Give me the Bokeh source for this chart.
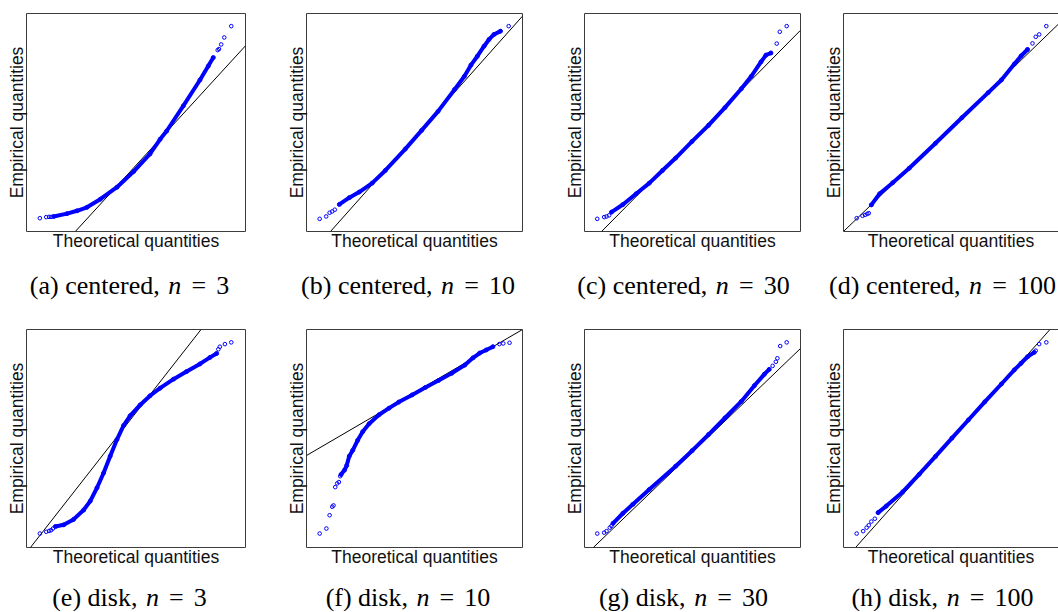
from bokeh.plotting import figure
from bokeh.layouts import row, column
from bokeh.models import Range1d, FixedTicker, LinearAxis
from bokeh.core.properties import value
from bokeh.embed import file_html
from bokeh.resources import INLINE

# ---------------- data: (theoretical, empirical), % of each panel's frame
letters = ["a", "b", "c", "d", "e", "f", "g", "h"]
kinds = ["centered"] * 4 + ["disk"] * 4
n_values = ["3", "10", "30", "100", "3", "10", "30", "100"]

a_band_x = [12.4, 18.5, 23.1, 27.6, 33.7, 41.3, 48.9, 56.4, 61.0, 64.0, 71.6, 79.2, 83.0, 85.3]
a_band_y = [6.9, 8.2, 9.5, 11.1, 14.8, 20.3, 27.5, 35.6, 42.3, 46.1, 57.6, 69.5, 75.9, 79.8]
a_tail_x = [6.1, 9.0, 10.3, 11.2, 87.3, 87.9, 88.9, 90.3, 93.5]
a_tail_y = [6.1, 6.6, 6.7, 6.7, 83.2, 83.7, 85.8, 89.0, 94.2]
a_ref_x, a_ref_y = [22.3, 100.0], [0.0, 85.2]

b_band_x = [15.2, 19.8, 24.4, 30.4, 36.5, 45.7, 53.3, 60.9, 68.5, 73.1, 76.1, 79.1, 82.2, 84.5, 86.8, 89.8]
b_band_y = [12.4, 15.5, 18.1, 22.2, 28.0, 37.8, 46.4, 55.1, 65.1, 71.2, 76.3, 80.4, 85.0, 88.1, 90.4, 91.9]
b_tail_x = [6.1, 9.1, 10.7, 11.9, 13.1, 93.6]
b_tail_y = [5.8, 6.9, 8.6, 9.2, 10.0, 94.2]
b_ref_x, b_ref_y = [11.1, 100.0], [0.0, 98.8]

c_band_x = [12.5, 17.8, 23.9, 30.0, 36.1, 42.2, 49.8, 57.4, 65.0, 72.6, 77.2, 81.7, 84.0, 86.3]
c_band_y = [8.9, 12.4, 17.3, 22.2, 28.0, 33.7, 41.3, 48.7, 56.8, 65.5, 71.2, 77.8, 80.9, 81.9]
c_tail_x = [5.9, 9.1, 10.2, 11.4, 89.0, 90.4, 93.6]
c_tail_y = [5.8, 6.6, 6.9, 7.4, 86.2, 91.6, 94.2]
c_ref_x, c_ref_y = [7.9, 100.0], [0.0, 92.3]

d_band_x = [12.9, 16.7, 22.8, 30.4, 42.6, 54.8, 67.0, 73.1, 79.1, 82.2, 85.2]
d_band_y = [12.2, 17.3, 22.4, 29.0, 40.5, 52.2, 63.7, 69.5, 76.8, 80.5, 83.5]
d_tail_x = [6.1, 8.8, 10.0, 11.0, 11.7, 87.5, 89.0, 90.6, 93.9]
d_tail_y = [6.1, 7.2, 7.6, 8.1, 8.4, 86.3, 89.3, 90.4, 94.2]
d_ref_x, d_ref_y = [0.0, 100.0], [0.0, 95.6]

e_band_x = [13.2, 17.0, 21.5, 26.1, 29.1, 32.2, 35.2, 38.2, 41.3, 44.3, 47.3, 51.9, 56.4, 61.0,
            67.1, 73.1, 79.2, 83.8, 86.8]
e_band_y = [9.6, 10.4, 12.9, 17.2, 21.3, 27.4, 34.2, 41.9, 49.5, 55.9, 60.4, 65.4, 69.6, 73.1,
            77.2, 80.7, 84.2, 87.2, 89.0]
e_tail_x = [6.1, 9.0, 10.3, 11.2, 12.1, 87.6, 88.3, 90.6, 93.5]
e_tail_y = [6.4, 7.2, 7.6, 7.9, 8.7, 90.9, 92.1, 93.3, 94.1]
e_ref_x, e_ref_y = [1.8, 79.7], [0.0, 100.0]

f_band_x = [16.0, 17.6, 18.6, 19.8, 21.4, 23.7, 26.0, 29.0, 33.6, 38.2, 42.7, 48.9, 55.0, 61.1,
            67.2, 73.3, 77.1, 80.2, 83.2, 86.3]
f_band_y = [33.5, 35.5, 37.6, 41.9, 44.6, 49.2, 53.1, 56.8, 60.9, 63.9, 66.7, 70.0, 73.4, 76.6,
            79.9, 83.7, 87.0, 89.2, 90.6, 92.1]
f_tail_x = [6.1, 9.2, 10.7, 11.9, 12.5, 13.3, 14.2, 15.0, 15.6, 89.3, 91.1, 94.0]
f_tail_y = [6.4, 8.7, 14.8, 18.7, 19.3, 27.7, 29.4, 30.0, 32.7, 93.3, 93.6, 93.9]
f_ref_x, f_ref_y = [0.0, 100.0], [42.2, 100.0]

g_band_x = [13.2, 17.8, 22.4, 30.0, 42.2, 49.8, 57.4, 65.0, 72.6, 78.7, 83.3, 85.5]
g_band_y = [11.1, 15.7, 19.8, 26.6, 37.3, 44.4, 51.8, 59.4, 67.0, 74.3, 79.5, 81.7]
g_tail_x = [5.9, 9.1, 10.2, 11.7, 12.5, 87.1, 88.6, 89.3, 90.6, 93.6]
g_tail_y = [6.4, 6.8, 7.5, 9.1, 9.9, 83.3, 85.2, 86.8, 92.4, 94.1]
g_ref_x, g_ref_y = [4.1, 100.0], [0.0, 91.3]

h_band_x = [16.0, 19.8, 27.4, 35.0, 42.6, 50.2, 57.8, 65.4, 73.1, 79.1, 82.2, 85.2, 88.3]
h_band_y = [16.0, 19.0, 25.5, 33.5, 41.8, 50.2, 58.5, 66.8, 75.0, 81.5, 84.5, 87.5, 89.5]
h_tail_x = [6.1, 9.1, 10.7, 11.7, 12.9, 14.5, 89.0, 90.6, 93.9]
h_tail_y = [6.4, 7.5, 9.1, 10.2, 11.9, 13.2, 90.3, 93.3, 94.1]
h_ref_x, h_ref_y = [5.6, 95.6], [0.0, 100.0]

bands = [(a_band_x, a_band_y), (b_band_x, b_band_y), (c_band_x, c_band_y), (d_band_x, d_band_y),
         (e_band_x, e_band_y), (f_band_x, f_band_y), (g_band_x, g_band_y), (h_band_x, h_band_y)]
tails = [(a_tail_x, a_tail_y), (b_tail_x, b_tail_y), (c_tail_x, c_tail_y), (d_tail_x, d_tail_y),
         (e_tail_x, e_tail_y), (f_tail_x, f_tail_y), (g_tail_x, g_tail_y), (h_tail_x, h_tail_y)]
refs = [(a_ref_x, a_ref_y), (b_ref_x, b_ref_y), (c_ref_x, c_ref_y), (d_ref_x, d_ref_y),
        (e_ref_x, e_ref_y), (f_ref_x, f_ref_y), (g_ref_x, g_ref_y), (h_ref_x, h_ref_y)]

# ---------------- layout / style (page has no margin: Bokeh's template zeroes it)
COL_W = [283, 278, 259, 238]
COL_LB = [26, 20, 20, 20]
COL_RB = [38, 39, 20, 0]
PLOT_H = [272, 258]
ROW_TB = [13, 17]
CAP_H = [40, 41]
CAP_BASE = [13, 27]
CAP_CX = [129.0, 124.5, 122.0, 122.0]
FRAME_W = 219
FRAME_H = 218
BOX = "#3c3c3c"
BLUE = "#0000ff"
CAP_FS = 26

TIMES = {"(": 333, ")": 333, " ": 250, ",": 250, "a": 444, "b": 500, "c": 444, "d": 500,
         "e": 444, "f": 333, "g": 500, "h": 500, "i": 278, "k": 500, "n": 500, "r": 333,
         "s": 389, "t": 278, "=": 564}


def tw(s):
    return sum(TIMES.get(ch, 500) for ch in s) / 1000.0 * CAP_FS


def style_axis(ax, line_color, standoff):
    ax.ticker = FixedTicker(ticks=[])
    ax.major_tick_line_color = None
    ax.minor_tick_line_color = None
    ax.major_tick_out = 0
    ax.major_tick_in = 0
    ax.minor_tick_out = 0
    ax.minor_tick_in = 0
    ax.major_label_text_font_size = "0px"
    ax.axis_label_text_font = "Liberation Sans"
    ax.axis_label_text_font_size = "17.5px"
    ax.axis_label_text_font_style = "normal"
    ax.axis_label_text_color = "#111111"
    ax.axis_label_standoff = standoff
    ax.axis_line_color = line_color
    ax.axis_line_width = 1


def make_panel(i):
    r, c = divmod(i, 4)
    w, h = COL_W[c], PLOT_H[r]
    frame_w = w - COL_LB[c] - COL_RB[c]
    x_end = 100.0 * frame_w / FRAME_W
    last = (c == 3)
    bottom = h - ROW_TB[r] - FRAME_H
    p = figure(width=w, height=h, x_range=Range1d(0, x_end), y_range=Range1d(0, 100),
               output_backend="svg", toolbar_location=None,
               min_border_left=COL_LB[c], min_border_right=COL_RB[c],
               min_border_top=ROW_TB[r], min_border_bottom=bottom)
    p.grid.visible = False
    p.background_fill_color = "white"
    p.border_fill_color = "white"
    if last:
        p.outline_line_color = None
    else:
        p.outline_line_color = BOX
        p.outline_line_width = 1
    line_col = BOX if last else None
    style_axis(p.xaxis[0], line_col, -1)
    style_axis(p.yaxis[0], line_col, 0)
    p.xaxis[0].axis_label = "Theoretical quantities"
    p.yaxis[0].axis_label = "Empirical quantities"
    if last:
        top = LinearAxis()
        style_axis(top, BOX, 0)
        p.add_layout(top, "above")

    rx, ry = refs[i]
    p.line(rx, ry, line_color="black", line_width=1)
    bx, by = bands[i]
    p.line(bx, by, line_color=BLUE, line_width=4, line_cap="round", line_join="round")
    p.scatter(bx, by, marker="circle", size=4, fill_color=None, line_color=BLUE, line_width=1)
    tx, ty = tails[i]
    p.scatter(tx, ty, marker="circle", size=3.6, fill_color=None, line_color=BLUE, line_width=1)
    return p


def make_caption(i):
    r, c = divmod(i, 4)
    w, h = COL_W[c], CAP_H[r]
    p = figure(width=w, height=h, x_range=Range1d(0, w), y_range=Range1d(h, 0),
               output_backend="svg", toolbar_location=None,
               x_axis_location=None, y_axis_location=None,
               min_border_left=0, min_border_right=0, min_border_top=0, min_border_bottom=0)
    p.grid.visible = False
    p.outline_line_color = None
    p.background_fill_color = "white"
    p.border_fill_color = "white"

    pre = "(%s) %s," % (letters[i], kinds[i])
    em = CAP_FS
    w_pre = tw(pre)
    gap1, w_n, gap2, w_eq, gap3 = 0.33 * em, 0.5 * em, 0.28 * em, 0.78 * em, 0.28 * em
    w_num = tw(n_values[i])
    total = w_pre + gap1 + w_n + gap2 + w_eq + gap3 + w_num
    x0 = CAP_CX[c] - total / 2.0
    xn = x0 + w_pre + gap1
    xe = xn + w_n + gap2
    xd = xe + w_eq + gap3
    y0 = CAP_BASE[r]
    common = dict(text_font=value("Liberation Serif"), text_font_size=value("%dpx" % CAP_FS),
                  text_baseline="alphabetic", text_color="black")
    p.text(x=[x0], y=[y0], text=[pre], text_align="left", **common)
    p.text(x=[xn], y=[y0], text=["n"], text_align="left", text_font_style="italic", **common)
    p.text(x=[xe + w_eq / 2.0], y=[y0], text=["="], text_align="center", **common)
    p.text(x=[xd], y=[y0], text=[n_values[i]], text_align="left", **common)
    return p


plots = [make_panel(i) for i in range(8)]
caps = [make_caption(i) for i in range(8)]
layout = column(row(*plots[:4], spacing=0), row(*caps[:4], spacing=0),
                row(*plots[4:], spacing=0), row(*caps[4:], spacing=0), spacing=0)

open("out.html", "w").write(file_html(layout, INLINE))
